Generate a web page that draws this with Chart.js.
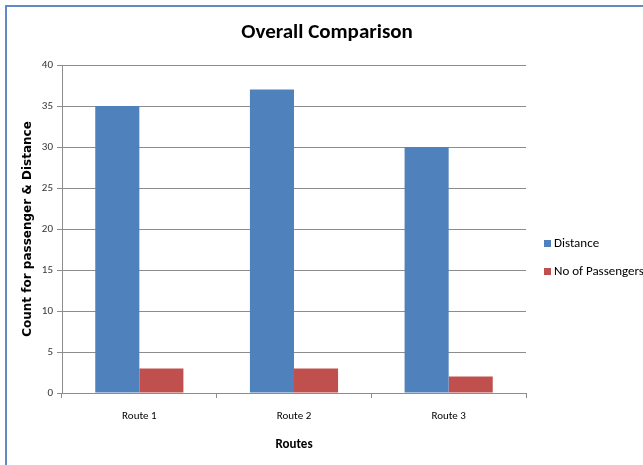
<!DOCTYPE html>
<html>
<head>
<meta charset="utf-8">
<script src="https://cdn.jsdelivr.net/npm/chart.js@4.4.1/dist/chart.umd.min.js"></script>
<style>
  html, body { margin: 0; padding: 0; background: #ffffff; }
  #wrap { position: relative; width: 643px; height: 465px; }
</style>
</head>
<body>
<div id="wrap"><canvas id="chart" width="643" height="465"></canvas></div>
<script>
const routes = ['Route 1', 'Route 2', 'Route 3'];
const distance = [35, 37, 30];
const passengers = [3, 3, 2];
const yTicks = [0, 5, 10, 15, 20, 25, 30, 35, 40];
const chartTitle = 'Overall Comparison';

const narrow = "Carlito, 'Liberation Sans Narrow', 'Open Sans', sans-serif";

// Office-style frame, a title centred on the whole chart, and a legend in the right margin
const framePlugin = {
  id: 'frame',
  beforeDraw(chart) {
    const ctx = chart.ctx;
    ctx.save();
    ctx.fillStyle = '#ffffff';
    ctx.fillRect(0, 0, chart.width, chart.height);
    ctx.strokeStyle = '#5f8ac4';
    ctx.lineWidth = 2;
    ctx.strokeRect(6, 6, chart.width + 20, chart.height + 20);
    ctx.restore();
  },
  afterDraw(chart) {
    const ctx = chart.ctx;
    ctx.save();
    ctx.fillStyle = '#000000';
    ctx.font = "bold 21px " + narrow;
    ctx.textAlign = 'center';
    ctx.textBaseline = 'middle';
    ctx.fillText(chartTitle, 327, 33);

    const x = chart.chartArea.right + 18;
    const rows = [244, 272];
    ctx.font = "13px " + narrow;
    ctx.textAlign = 'left';
    chart.data.datasets.forEach((ds, i) => {
      ctx.fillStyle = ds.backgroundColor;
      ctx.fillRect(x, rows[i] - 4, 7, 7);
      ctx.fillStyle = '#000000';
      ctx.fillText(ds.label, x + 10, rows[i]);
    });
    ctx.restore();
  }
};

new Chart(document.getElementById('chart'), {
  type: 'bar',
  data: {
    labels: routes,
    datasets: [
      { label: 'Distance', data: distance, backgroundColor: '#4f81bd' },
      { label: 'No of Passengers', data: passengers, backgroundColor: '#c0504d' }
    ]
  },
  options: {
    responsive: false,
    animation: false,
    devicePixelRatio: 1,
    layout: { padding: { left: 16, right: 117, top: 65, bottom: 0 } },
    plugins: {
      legend: { display: false },
      tooltip: { enabled: false },
      title: { display: false }
    },
    datasets: {
      bar: { barPercentage: 1.0, categoryPercentage: 0.57 }
    },
    scales: {
      x: {
        grid: { display: true, drawOnChartArea: false, drawTicks: true, tickLength: 5, color: '#8c8c8c' },
        border: { color: '#8c8c8c' },
        ticks: { color: '#000000', font: { family: narrow, size: 11 }, padding: 12 },
        title: {
          display: true,
          text: 'Routes',
          color: '#000000',
          font: { family: narrow, size: 13, weight: 'bold' },
          padding: { top: 4, bottom: 12 }
        },
        afterFit(scale) { scale.height = 72; }
      },
      y: {
        min: 0,
        max: 40,
        afterBuildTicks(scale) { scale.ticks = yTicks.map(v => ({ value: v })); },
        grid: { color: '#8c8c8c', tickLength: 5 },
        border: { color: '#8c8c8c' },
        ticks: { color: '#333333', font: { family: narrow, size: 11 }, padding: 4 },
        title: {
          display: true,
          text: 'Count for passenger & Distance',
          color: '#000000',
          font: { family: "'DejaVu Sans', sans-serif", size: 12, weight: 'bold' },
          padding: { top: 5, bottom: 4 }
        },
        afterFit(scale) { scale.width = 46; }
      }
    }
  },
  plugins: [framePlugin]
});
</script>
</body>
</html>
